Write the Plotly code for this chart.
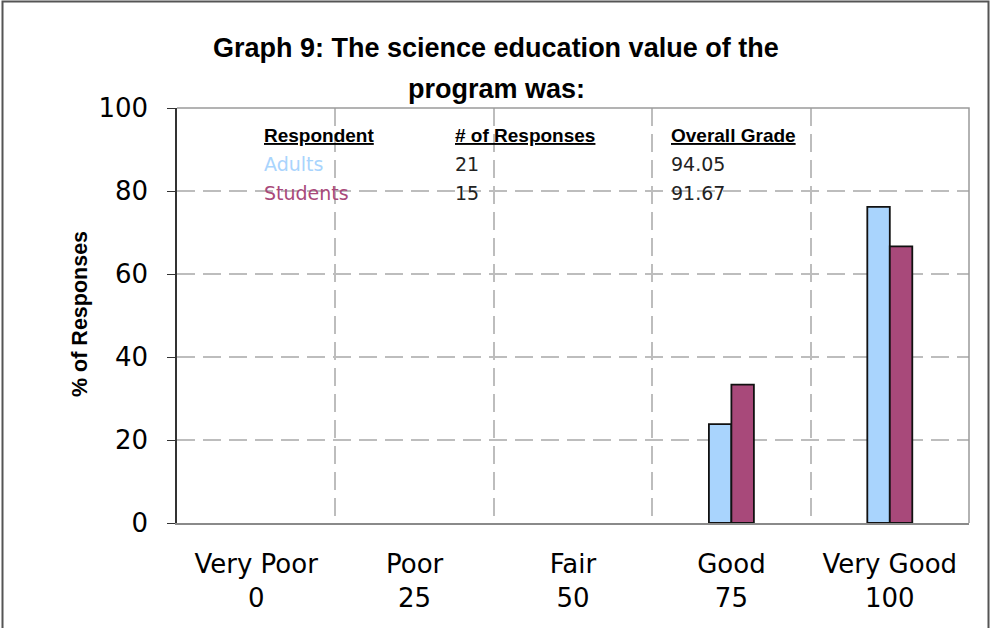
import plotly.graph_objects as go

categories = ["Very Poor", "Poor", "Fair", "Good", "Very Good"]
scores = [0, 25, 50, 75, 100]
adults = [0, 0, 0, 23.81, 76.19]
students = [0, 0, 0, 33.33, 66.67]

respondents = ["Adults", "Students"]
n_responses = [21, 15]
overall_grade = ["94.05", "91.67"]

ADULT_COLOR = "#A9D4FD"
STUDENT_COLOR = "#A8497A"

W, H = 990, 628
L, R, T, B = 177, 21, 108, 105
PW, PH = W - L - R, H - T - B

def px_x(x):
    return (x - L) / PW

def px_y(y):
    return (H - B - y) / PH

xs = list(range(len(categories)))

fig = go.Figure()
fig.add_trace(go.Bar(
    x=xs, y=adults, name="Adults",
    marker=dict(color=ADULT_COLOR,
                line=dict(color="#111111", width=[0 if v == 0 else 1.8 for v in adults])),
))
fig.add_trace(go.Bar(
    x=xs, y=students, name="Students",
    marker=dict(color=STUDENT_COLOR,
                line=dict(color="#111111", width=[0 if v == 0 else 1.8 for v in students])),
))

fig.update_layout(
    width=W, height=H,
    margin=dict(l=L, r=R, t=T, b=B, autoexpand=False),
    paper_bgcolor="white", plot_bgcolor="white",
    showlegend=False,
    barmode="group", bargap=0.716, bargroupgap=0,
    font=dict(family="DejaVu Sans", color="black"),
)

fig.update_xaxes(
    range=[-0.5, 4.5],
    tickmode="array", tickvals=xs,
    ticktext=[f"{c}<br>{s}" for c, s in zip(categories, scores)],
    tickfont=dict(family="DejaVu Sans", size=26, color="black"),
    ticks="", showgrid=False, zeroline=False,
    showline=True, linecolor="#8a8a8a", linewidth=2,
    ticklabelstandoff=17,
    minor=dict(tickvals=[0.5, 1.5, 2.5, 3.5], showgrid=True,
               gridcolor="#bdbdbd", gridwidth=1.5, griddash="18px,8px", ticks=""),
)

fig.update_yaxes(
    range=[0, 100], tickmode="array", tickvals=[0, 20, 40, 60, 80, 100],
    tickfont=dict(family="DejaVu Sans", size=26, color="black"),
    ticks="outside", ticklen=8, tickcolor="#333333", tickwidth=1.2,
    showline=True, linecolor="#333333", linewidth=1.5,
    showgrid=True, gridcolor="#bdbdbd", gridwidth=1.5, griddash="18px,8px",
    zeroline=False, ticklabelstandoff=14,
)

shapes = []
shapes.append(dict(type="path", xref="paper", yref="paper",
                   path="M 0,1 L 1,1 L 1,0",
                   line=dict(color="#9a9a9a", width=1.5)))
fx0, fx1 = px_x(2.5), px_x(988.5)
fy0, fy1 = px_y(640), px_y(1.5)
shapes.append(dict(type="path", xref="paper", yref="paper",
                   path=f"M {fx0},{fy0} L {fx0},{fy1} L {fx1},{fy1} L {fx1},{fy0}",
                   line=dict(color="#555555", width=2)))
fig.update_layout(shapes=shapes)

ann = []
ann.append(dict(text="Graph 9: The science education value of the",
                x=px_x(496), y=px_y(48), xref="paper", yref="paper",
                showarrow=False, xanchor="center", yanchor="middle",
                font=dict(family="Liberation Sans", size=27, color="black", weight="bold")))
ann.append(dict(text="program was:",
                x=px_x(496), y=px_y(89), xref="paper", yref="paper",
                showarrow=False, xanchor="center", yanchor="middle",
                font=dict(family="Liberation Sans", size=27, color="black", weight="bold")))
ann.append(dict(text="% of Responses", textangle=-90,
                x=px_x(80), y=px_y(314), xref="paper", yref="paper",
                showarrow=False, xanchor="center", yanchor="middle",
                font=dict(family="Liberation Sans", size=21.5, color="black", weight="bold")))

col_x = [262, 453, 669]
headers = ["Respondent", "# of Responses", "Overall Grade"]
for cx, h in zip(col_x, headers):
    ann.append(dict(text=f"<u>{h}</u>", x=px_x(cx), y=px_y(135), xref="paper", yref="paper",
                    showarrow=False, xanchor="left", yanchor="middle",
                    font=dict(family="Liberation Sans", size=19, color="black", weight="bold")))
row_y = [164, 193]
row_colors = [ADULT_COLOR, STUDENT_COLOR]
for ry, name, n, g, col in zip(row_y, respondents, n_responses, overall_grade, row_colors):
    ann.append(dict(text=name, x=px_x(col_x[0]), y=px_y(ry), xref="paper", yref="paper",
                    showarrow=False, xanchor="left", yanchor="middle",
                    font=dict(family="DejaVu Sans", size=19, color=col)))
    ann.append(dict(text=str(n), x=px_x(col_x[1]), y=px_y(ry), xref="paper", yref="paper",
                    showarrow=False, xanchor="left", yanchor="middle",
                    font=dict(family="DejaVu Sans", size=19, color="#222222")))
    ann.append(dict(text=g, x=px_x(col_x[2]), y=px_y(ry), xref="paper", yref="paper",
                    showarrow=False, xanchor="left", yanchor="middle",
                    font=dict(family="DejaVu Sans", size=19, color="#222222")))
fig.update_layout(annotations=ann)

fig.write_html("out.html", config={"displayModeBar": False},
               post_script="document.body.style.margin='0';")
